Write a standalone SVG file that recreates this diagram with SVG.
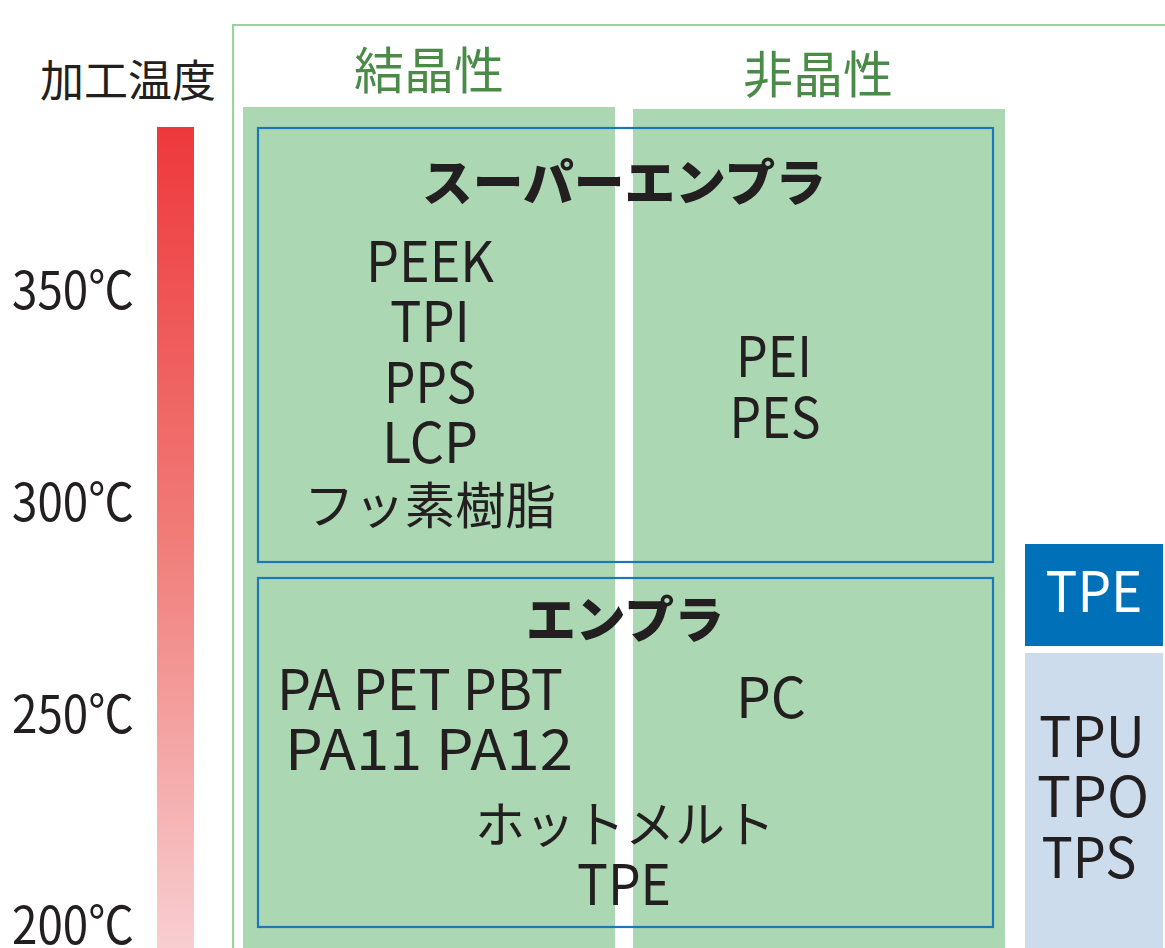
<svg xmlns="http://www.w3.org/2000/svg" width="1165" height="948" viewBox="0 0 1165 948">
<defs>
<linearGradient id="temp" x1="0" y1="0" x2="0" y2="1">
<stop offset="0" stop-color="#ee383c"/>
<stop offset="0.5" stop-color="#f07c78"/>
<stop offset="1" stop-color="#f8ced1"/>
</linearGradient>
<style>
text{font-family:"Noto Sans CJK JP","Noto Sans",sans-serif;fill:#231f20}
.lat{font-size:56px;text-anchor:middle}
.jp{font-size:50px;text-anchor:middle}
.bold{font-size:50px;font-weight:900;text-anchor:middle}
.head{font-size:50px;fill:#4a8b47;text-anchor:middle}
.temp{font-size:52px}
.panel{fill:#abd8b2}
.blue{fill:none;stroke:#1b77b6;stroke-width:2.2}
</style>
</defs>
<rect width="1165" height="948" fill="#fff"/>
<g id="scale">
<rect x="157" y="127" width="37" height="821" fill="url(#temp)"/>
<text x="40" y="97" style="font-size:44px">加工温度</text>
<text x="12" y="309" class="temp" textLength="122" lengthAdjust="spacingAndGlyphs">350℃</text>
<text x="12" y="521" class="temp" textLength="122" lengthAdjust="spacingAndGlyphs">300℃</text>
<text x="12" y="733" class="temp" textLength="122" lengthAdjust="spacingAndGlyphs">250℃</text>
<text x="12" y="944" class="temp" textLength="122" lengthAdjust="spacingAndGlyphs">200℃</text>
</g>
<g id="frame">
<path d="M233 948V25H1165" fill="none" stroke="#9dd1a1" stroke-width="2.2"/>
</g>
<g id="columns">
<rect class="panel" x="243" y="107" width="372" height="841"/>
<rect class="panel" x="633" y="109" width="372" height="839"/>
<text x="429" y="89" class="head">結晶性</text>
<text x="818" y="93" class="head">非晶性</text>
</g>
<g id="super-engineering">
<rect class="blue" x="258" y="128" width="735" height="434"/>
<text x="624" y="201" class="bold" textLength="404" lengthAdjust="spacingAndGlyphs">スーパーエンプラ</text>
<text x="430" y="282" class="lat" textLength="128" lengthAdjust="spacingAndGlyphs">PEEK</text>
<text x="430" y="342" class="lat" textLength="80" lengthAdjust="spacingAndGlyphs">TPI</text>
<text x="430" y="403" class="lat" textLength="92" lengthAdjust="spacingAndGlyphs">PPS</text>
<text x="430" y="463" class="lat" textLength="96" lengthAdjust="spacingAndGlyphs">LCP</text>
<text x="430" y="524" class="jp" textLength="252" lengthAdjust="spacingAndGlyphs">フッ素樹脂</text>
<text x="774" y="377" class="lat" textLength="76" lengthAdjust="spacingAndGlyphs">PEI</text>
<text x="775" y="438" class="lat" textLength="91" lengthAdjust="spacingAndGlyphs">PES</text>
</g>
<g id="engineering">
<rect class="blue" x="258" y="578" width="735" height="349"/>
<text x="625" y="638" class="bold" textLength="198" lengthAdjust="spacingAndGlyphs">エンプラ</text>
<text x="420" y="710" class="lat" textLength="286" lengthAdjust="spacingAndGlyphs">PA PET PBT</text>
<text x="429" y="770" class="lat" textLength="288" lengthAdjust="spacingAndGlyphs">PA11 PA12</text>
<text x="771" y="718" class="lat" textLength="70" lengthAdjust="spacingAndGlyphs">PC</text>
<text x="625" y="843" class="jp" textLength="300" lengthAdjust="spacingAndGlyphs">ホットメルト</text>
<text x="624" y="905" class="lat" textLength="94" lengthAdjust="spacingAndGlyphs">TPE</text>
</g>
<g id="tpe">
<rect x="1025" y="544" width="138" height="102" fill="#0071b9"/>
<text x="1094" y="612" class="lat" style="fill:#fff" textLength="97" lengthAdjust="spacingAndGlyphs">TPE</text>
</g>
<g id="tp-list">
<rect x="1025" y="653" width="138" height="295" fill="#ccdcec"/>
<text x="1092" y="757" class="lat" textLength="106" lengthAdjust="spacingAndGlyphs">TPU</text>
<text x="1093" y="817" class="lat" textLength="112" lengthAdjust="spacingAndGlyphs">TPO</text>
<text x="1089" y="878" class="lat" textLength="95" lengthAdjust="spacingAndGlyphs">TPS</text>
</g>
<g id="connectors"/>
</svg>
